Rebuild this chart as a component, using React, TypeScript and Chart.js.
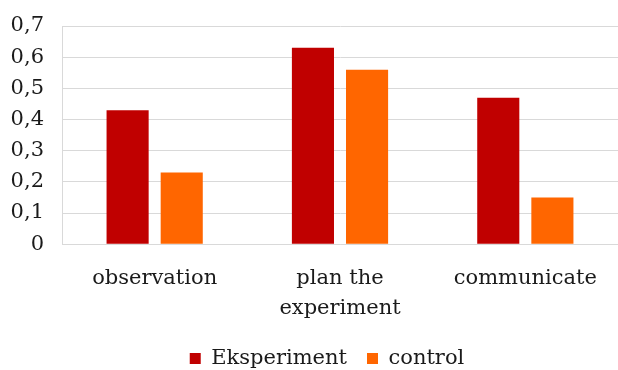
import React, { useEffect, useRef } from "react";
import { Chart, registerables } from "chart.js";

Chart.register(...registerables);

const categories: (string | string[])[] = ["observation", ["plan the", "experiment"], "communicate"];
const eksperimentValues = [0.43, 0.63, 0.47];
const controlValues = [0.23, 0.56, 0.15];
const seriesNames = ["Eksperiment", "control"];
const yMin = 0;
const yMax = 0.7;
const yStep = 0.1;

const FONT = "'DejaVu Serif', serif";
const TEXT = "#1a1a1a";

const legendShift = {
  id: "legendShift",
  afterLayout(chart: any) {
    const lg = chart.legend;
    if (!lg) return;
    lg.left += 18;
    lg.right += 18;
    lg.top += 2;
    lg.bottom += 2;
  },
};

export default function App() {
  const ref = useRef<HTMLCanvasElement | null>(null);
  useEffect(() => {
    if (!ref.current) return;
    const chart = new Chart(ref.current, {
      type: "bar",
      data: {
        labels: categories,
        datasets: [
          {
            label: seriesNames[0],
            data: eksperimentValues,
            backgroundColor: "#C00000",
            categoryPercentage: 0.584,
            barPercentage: 0.778,
          },
          {
            label: seriesNames[1],
            data: controlValues,
            backgroundColor: "#FF6600",
            categoryPercentage: 0.584,
            barPercentage: 0.778,
          },
        ],
      },
      plugins: [legendShift],
      options: {
        animation: false,
        responsive: false,
        maintainAspectRatio: false,
        layout: { padding: { top: 26, right: 0, bottom: -7, left: 0 } },
        scales: {
          x: {
            grid: { display: false, drawTicks: false },
            border: { display: true, color: "#D9D9D9", width: 1 },
            ticks: {
              color: TEXT,
              font: { family: FONT, size: 21, lineHeight: 1.4 },
              maxRotation: 0,
              autoSkip: false,
              padding: 20,
            },
            afterFit: (scale: any) => {
              scale.height = scale.height - 17;
            },
          },
          y: {
            min: yMin,
            max: yMax,
            grid: { color: "#D9D9D9", lineWidth: 1, drawTicks: false },
            border: { display: true, color: "#D9D9D9", width: 1 },
            ticks: {
              stepSize: yStep,
              autoSkip: false,
              color: TEXT,
              font: { family: FONT, size: 21 },
              padding: 18,
              callback: (v: any) => (Number(v) === 0 ? "0" : Number(v).toFixed(1).replace(".", ",")),
            },
            afterFit: (scale: any) => {
              scale.width = 62;
              scale.paddingTop = 0;
              scale.paddingBottom = 0;
            },
          },
        },
        plugins: {
          legend: {
            position: "bottom",
            labels: {
              color: TEXT,
              font: { family: FONT, size: 21 },
              boxWidth: 11,
              boxHeight: 11,
              padding: 20,
            },
          },
          tooltip: { enabled: false },
        },
      },
    });
    return () => chart.destroy();
  }, []);
  return (
    <div style={{ position: "fixed", left: 0, top: 0, width: 618, height: 370, background: "#fff" }}>
      <canvas ref={ref} width={618} height={370} style={{ width: 618, height: 370 }} />
    </div>
  );
}
